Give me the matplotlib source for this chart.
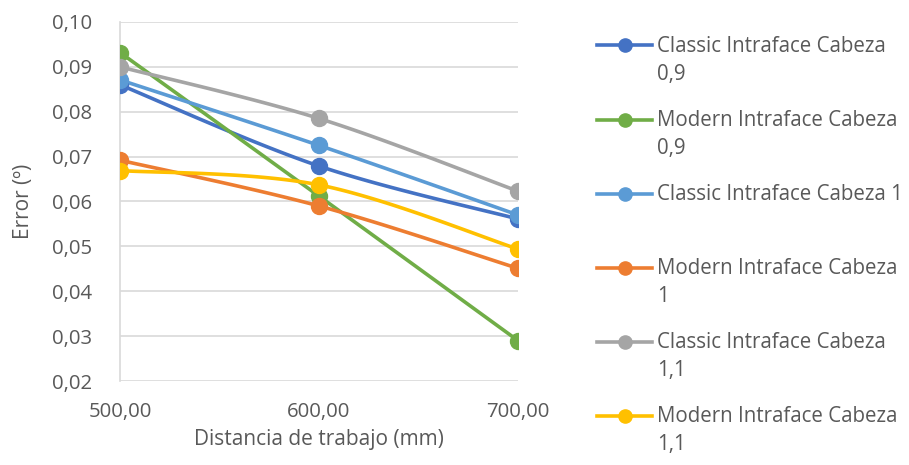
import matplotlib.pyplot as plt
import numpy as np
from matplotlib.lines import Line2D

plt.rcParams['font.family'] = ['Open Sans', 'DejaVu Sans']

distancia = [500, 600, 700]
classic_09 = [0.0860, 0.0679, 0.0561]
modern_09 = [0.0932, 0.0612, 0.0290]
classic_10 = [0.0871, 0.0725, 0.0570]
modern_10 = [0.0692, 0.0590, 0.0451]
classic_11 = [0.0900, 0.0785, 0.0623]
modern_11 = [0.0669, 0.0637, 0.0494]

series = [
    ("Classic Intraface Cabeza\n0,9", classic_09, '#4472C4'),
    ("Modern Intraface Cabeza\n0,9", modern_09, '#70AD47'),
    ("Classic Intraface Cabeza 1", classic_10, '#5B9BD5'),
    ("Modern Intraface Cabeza\n1", modern_10, '#ED7D31'),
    ("Classic Intraface Cabeza\n1,1", classic_11, '#A5A5A5'),
    ("Modern Intraface Cabeza\n1,1", modern_11, '#FFC000'),
]

text_color = '#595959'
grid_color = '#D9D9D9'


def smooth(xs, ys, n=40):
    # bezier segments with catmull-rom style control points (endpoints repeated)
    p = np.column_stack([xs, ys]).astype(float)
    p = np.vstack([p[0], p, p[-1]])
    out = []
    for i in range(1, len(p) - 2):
        p0, p1, p2, p3 = p[i - 1], p[i], p[i + 1], p[i + 2]
        c1 = p1 + (p2 - p0) / 6
        c2 = p2 - (p3 - p1) / 6
        t = np.linspace(0, 1, n)[:, None]
        seg = ((1 - t) ** 3 * p1 + 3 * (1 - t) ** 2 * t * c1
               + 3 * (1 - t) * t ** 2 * c2 + t ** 3 * p2)
        out.append(seg if i == 1 else seg[1:])
    out = np.vstack(out)
    return out[:, 0], out[:, 1]


fig = plt.figure(figsize=(9.09, 4.65), dpi=100)
ax = fig.add_axes([120 / 909, 1 - 381 / 465, 398 / 909, 359 / 465])

for label, vals, color in series:
    sx, sy = smooth(distancia, vals)
    ax.plot(sx, sy, color=color, lw=2.6, solid_capstyle='round', zorder=3)
    ax.plot(distancia, vals, 'o', color=color, ms=11.5, zorder=4)

ax.set_xlim(500, 700)
ax.set_ylim(0.02, 0.10)
ax.set_xticks(distancia)
ax.set_xticklabels(['500,00', '600,00', '700,00'])
yt = np.arange(0.02, 0.1001, 0.01)
ax.set_yticks(yt)
ax.set_yticklabels([f"{v:.2f}".replace('.', ',') for v in yt])
ax.grid(axis='y', color=grid_color, lw=1.2)
ax.set_axisbelow(True)
for s in ['top', 'right', 'bottom']:
    ax.spines[s].set_visible(False)
ax.spines['left'].set_color(grid_color)
ax.spines['left'].set_linewidth(1.2)
ax.tick_params(axis='y', length=0, labelsize=14.7, colors=text_color, pad=20)
ax.tick_params(axis='x', length=0, labelsize=14.7, colors=text_color, pad=15)
ax.set_xlabel("Distancia de trabajo (mm)", fontsize=15, color=text_color, labelpad=5)
ax.set_ylabel("Error (º)", fontsize=15, color=text_color, labelpad=13)

# legend drawn by hand so wrapped labels keep the marker on the first line
W, H = 909, 465
for i, (label, vals, color) in enumerate(series):
    yy = 45.5 + 74.1 * i
    fig.add_artist(Line2D([597 / W, 652 / W], [1 - yy / H] * 2, color=color,
                          lw=2.6, transform=fig.transFigure))
    fig.add_artist(Line2D([624.5 / W], [1 - yy / H], marker='o', ms=9.5,
                          color=color, transform=fig.transFigure))
    fig.text(657 / W, 1 - (yy - 10) / H, label, fontsize=14.8, color=text_color,
             va='top', ha='left', linespacing=1.45)

fig.savefig('out.png', dpi=100)
